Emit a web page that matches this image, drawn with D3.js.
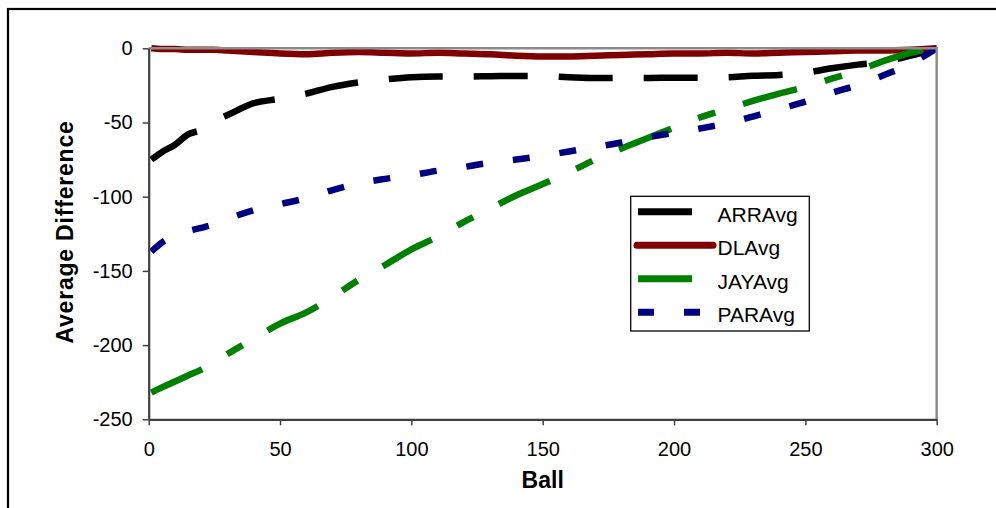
<!DOCTYPE html>
<html>
<head>
<meta charset="utf-8">
<script src="https://cdn.jsdelivr.net/npm/d3@7/dist/d3.min.js"></script>
<style>
  body { margin: 0; background: #fff; }
  svg { display: block; font-family: "Liberation Sans", Arial, sans-serif; }
</style>
</head>
<body>
<div id="chart"></div>
<script>
const balls = [1, 5, 10, 15, 20, 25, 30, 40, 50, 60, 70, 80, 90, 100, 110, 120, 130, 140, 150,
  160, 170, 180, 190, 200, 210, 220, 230, 240, 250, 260, 270, 280, 290, 300];

const arrAvg = [-75, -70, -65, -58, -55, -49, -45, -37, -34, -30.5, -26, -23, -21, -19.5, -19, -19, -18.8, -18.7, -18.8,
  -19.5, -20, -20, -20, -19.8, -19.8, -19.5, -18.5, -18, -16.5, -13.5, -11, -9, -5, 0];
const dlAvg = [0, -0.5, -0.5, -1, -1, -1, -1.5, -2.5, -3.5, -4, -3, -2.5, -3, -3.5, -3, -3.5, -4, -5, -5.5,
  -5.5, -5, -4.5, -4, -3.5, -3.5, -3, -3.5, -3, -2.5, -2, -1.5, -1.5, -1, 0];
const jayAvg = [-232, -228.5, -224.5, -220.5, -216.5, -211.5, -206, -195.7, -185.5, -178, -167.5, -156, -146, -135.5, -127, -117, -108, -99, -91.5,
  -83.5, -75, -67.5, -60.5, -53.5, -46.5, -41, -35.5, -30.5, -26, -20.5, -15, -8.5, -3, 0];
const parAvg = [-137, -131, -126, -123, -121, -118.6, -115, -109, -105, -101, -95.5, -91, -88, -85.5, -82.5, -80, -77, -75, -72.5,
  -69.5, -66.5, -63.5, -60, -57, -54, -50.5, -46, -41, -36, -30, -24.7, -18, -10.5, 0];

const seriesNames = ['ARRAvg', 'DLAvg', 'JAYAvg', 'PARAvg'];
const seriesValues = [arrAvg, dlAvg, jayAvg, parAvg];

const xTicks = [0, 50, 100, 150, 200, 250, 300];
const yTicks = [0, -50, -100, -150, -200, -250];

// line styles per series
const styles = {
  ARRAvg: { color: '#000000', dash: '54,31' },
  DLAvg:  { color: '#800000', dash: null },
  JAYAvg: { color: '#008000', dash: '56,29,18,29' },
  PARAvg: { color: '#000080', dash: '17,30' }
};

const width = 996, height = 508;
const plot = { left: 148.7, top: 48.3, right: 936.7, bottom: 419.3 };

const svg = d3.select('#chart').append('svg')
  .attr('width', width)
  .attr('height', height);

// outer chart frame (runs off the right and bottom edge)
svg.append('rect')
  .attr('x', 8).attr('y', 9)
  .attr('width', 1000).attr('height', 520)
  .attr('fill', '#fff')
  .attr('stroke', '#000')
  .attr('stroke-width', 2.2);

const x = d3.scaleLinear().domain([0, 300]).range([plot.left, plot.right]);
const y = d3.scaleLinear().domain([-250, 0]).range([plot.bottom, plot.top]);

const line = d3.line()
  .x(d => x(d[0]))
  .y(d => y(d[1]))
  .curve(d3.curveMonotoneX);

// series lines, in Excel drawing order
seriesNames.forEach((name, i) => {
  const pts = balls.map((b, j) => [b, seriesValues[i][j]]);
  const st = styles[name];
  svg.append('path')
    .datum(pts)
    .attr('d', line)
    .attr('fill', 'none')
    .attr('stroke', st.color)
    .attr('stroke-width', 6.5)
    .attr('stroke-linejoin', 'round')
    .attr('stroke-dasharray', st.dash);
});

// plot area border (top & right grey)
svg.append('path')
  .attr('d', `M${plot.left},${plot.top}H${plot.right}V${plot.bottom}`)
  .attr('fill', 'none')
  .attr('stroke', '#8c8c8c')
  .attr('stroke-width', 2.5);

// axes (plain hyphen for negatives, like Excel)
const fmt = d => String(d);
const xAxis = svg.append('g')
  .attr('transform', `translate(0,${plot.bottom})`)
  .call(d3.axisBottom(x).tickValues(xTicks).tickFormat(fmt).tickSize(6).tickPadding(17).tickSizeOuter(0));
const yAxis = svg.append('g')
  .attr('transform', `translate(${plot.left},0)`)
  .call(d3.axisLeft(y).tickValues(yTicks).tickFormat(fmt).tickSize(6).tickPadding(10).tickSizeOuter(0));

[xAxis, yAxis].forEach(g => {
  g.select('.domain').attr('stroke', '#404040').attr('stroke-width', 2.2);
  g.selectAll('.tick line').attr('stroke', '#404040').attr('stroke-width', 1.5);
  g.selectAll('.tick text')
    .attr('fill', '#000')
    .style('font-family', '"Liberation Sans", Arial, sans-serif')
    .style('font-size', '20px');
});

// axis titles
svg.append('text')
  .attr('x', (plot.left + plot.right) / 2)
  .attr('y', 488)
  .attr('text-anchor', 'middle')
  .style('font-size', '23px')
  .style('font-weight', 'bold')
  .text('Ball');

svg.append('text')
  .attr('transform', `translate(73,232) rotate(-90)`)
  .attr('text-anchor', 'middle')
  .style('font-size', '23px')
  .style('font-weight', 'bold')
  .style('letter-spacing', '0.8px')
  .text('Average Difference');

// legend
const legend = svg.append('g');
legend.append('rect')
  .attr('x', 630.7).attr('y', 196.3)
  .attr('width', 178.6).attr('height', 134.7)
  .attr('fill', '#fff')
  .attr('stroke', '#000')
  .attr('stroke-width', 1.3);

seriesNames.forEach((name, i) => {
  const st = styles[name];
  const cy = 211.7 + i * 33.5;
  const g = legend.append('g');
  if (name === 'DLAvg') {
    g.append('line')
      .attr('x1', 637).attr('x2', 713)
      .attr('y1', cy).attr('y2', cy)
      .attr('stroke', st.color).attr('stroke-width', 7)
      .attr('stroke-linecap', 'round');
  } else if (name === 'PARAvg') {
    g.append('line')
      .attr('x1', 638).attr('x2', 700)
      .attr('y1', cy).attr('y2', cy)
      .attr('stroke', st.color).attr('stroke-width', 7)
      .attr('stroke-dasharray', '16,30');
  } else {
    g.append('line')
      .attr('x1', 638).attr('x2', 692)
      .attr('y1', cy).attr('y2', cy)
      .attr('stroke', st.color).attr('stroke-width', 7);
  }
  g.append('text')
    .attr('x', 717.5)
    .attr('y', cy + 10)
    .style('font-size', '21px')
    .text(name);
});
</script>
</body>
</html>
